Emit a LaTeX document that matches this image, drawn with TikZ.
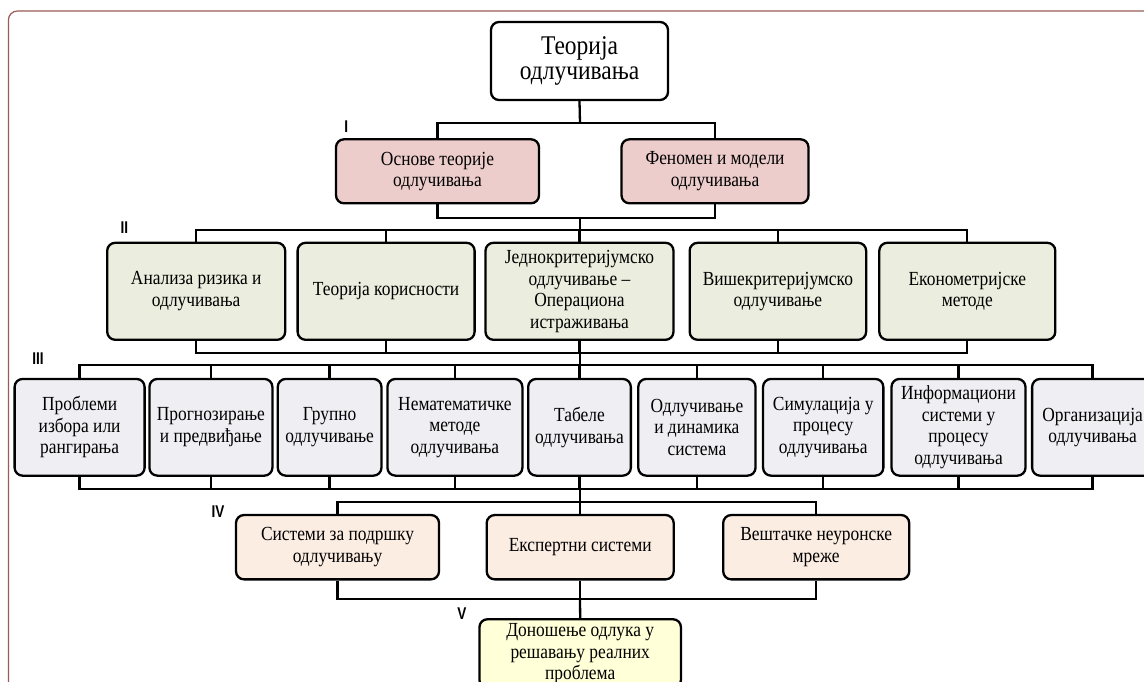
\documentclass[tikz,border=0pt]{standalone}
\usepackage{fontspec}
\setmainfont{Liberation Serif}
\newfontfamily\bodyfont[FakeStretch=0.87]{Liberation Serif}
\newfontfamily\levelfont[FakeStretch=0.8]{Liberation Sans Bold}
\definecolor{framecol}{HTML}{9A5A55}
\definecolor{fillone}{HTML}{EDCDCB}
\definecolor{filltwo}{HTML}{EBEEDE}
\definecolor{fillthree}{HTML}{EFEEF3}
\definecolor{fillfour}{HTML}{FCEDE3}
\definecolor{fillfive}{HTML}{FFFFD8}
\begin{document}
\begin{tikzpicture}[x=1pt,y=-1pt,
  box/.style={draw=black, line width=2.3pt, rounded corners=8pt, align=center,
    inner sep=0pt, font=\bodyfont\fontsize{20}{21.5}\selectfont},
  wire/.style={line width=2.3pt, line join=miter},
  lvl/.style={font=\levelfont\fontsize{17}{17}\selectfont, inner sep=0pt}
]
\useasboundingbox (0,0) rectangle (1144,682);
\fill[white] (0,0) rectangle (1144,682);
% outer frame, running off the right and bottom edges
\draw[framecol, line width=1.2pt, rounded corners=9pt] (8.4,11) rectangle (1170,710);

% root
\node[box, fill=white, minimum width=177pt, minimum height=78pt,
  font=\bodyfont\fontsize{27}{25}\selectfont] (root) at (579.5,61) {Теорија\\одлучивања};

% level I
\node[box, fill=fillone, minimum width=203pt, minimum height=64pt] (osn) at (437.5,171.3) {Основе теорије\\одлучивања};
\node[box, fill=fillone, minimum width=187pt, minimum height=64pt] (fen) at (715,171.3) {Феномен и модели\\одлучивања};

% level II
\node[box, fill=filltwo, minimum width=178pt, minimum height=97pt] (anl) at (196.2,291.3) {Анализа ризика и\\одлучивања};
\node[box, fill=filltwo, minimum width=177pt, minimum height=97pt] (kor) at (386.1,291.3) {Теорија корисности};
\node[box, fill=filltwo, minimum width=188pt, minimum height=97pt] (jed) at (579.5,291.3) {Једнокритеријумско\\одлучивање –\\Операциона\\истраживања};
\node[box, fill=filltwo, minimum width=176.5pt, minimum height=97pt] (vis) at (777.9,291.3) {Вишекритеријумско\\одлучивање};
\node[box, fill=filltwo, minimum width=176pt, minimum height=97pt] (eko) at (967.3,291.3) {Економетријске\\методе};

% level III
\tikzset{three/.style={box, fill=fillthree, minimum height=96.7pt}}
\node[three, minimum width=130pt] (pro) at (79.6,427.3) {Проблеми\\избора или\\рангирања};
\node[three, minimum width=123pt] (prg) at (210.9,427.3) {Прогнозирање\\и предвиђање};
\node[three, minimum width=103.7pt] (grp) at (329.6,427.3) {Групно\\одлучивање};
\node[three, minimum width=135pt] (nem) at (454.9,427.3) {Нематематичке\\методе\\одлучивања};
\node[three, minimum width=102.7pt] (tab) at (579.5,427.3) {Табеле\\одлучивања};
\node[three, minimum width=117.3pt] (din) at (696.9,427.3) {Одлучивање\\и динамика\\система};
\node[three, minimum width=120.3pt] (sim) at (823.2,427.3) {Симулација у\\процесу\\одлучивања};
\node[three, minimum width=134pt] (inf) at (958.5,427.3) {Информациони\\системи у\\процесу\\одлучивања};
\node[three, minimum width=121pt] (org) at (1092.6,427.3) {Организација\\одлучивања};

% level IV
\node[box, fill=fillfour, minimum width=203pt, minimum height=64.3pt] (dss) at (337.5,547.2) {Системи за подршку\\одлучивању};
\node[box, fill=fillfour, minimum width=187pt, minimum height=64.3pt] (eks) at (580.2,547.2) {Експертни системи};
\node[box, fill=fillfour, minimum width=186pt, minimum height=64.3pt] (ann) at (816.2,547.2) {Вештачке неуронске\\мреже};

% level V
\node[box, fill=fillfive, minimum width=201.5pt, minimum height=68.7pt] (don) at (580.2,653.6) {Доношење одлука у\\решавању реалних\\проблема};

% bus levels on the central spine
\coordinate (b1) at (580,123.3);
\coordinate (u1) at (580,218.3);
\coordinate (b2) at (580,230);
\coordinate (u2) at (580,353.3);
\coordinate (b3) at (580,365);
\coordinate (u3) at (580,489.3);
\coordinate (b4) at (580,501.7);
\coordinate (u4) at (580,599.3);

% root -> level I
\draw[wire] (root.south) -- (b1);
\draw[wire] (osn.north) -- (osn.north |- b1) -- (fen.north |- b1) -- (fen.north);
\draw[wire] (osn.south) -- (osn.south |- u1) -- (fen.south |- u1) -- (fen.south);
\draw[wire] (u1) -- (b2);

% level II
\draw[wire] (anl.north) -- (anl.north |- b2) -- (eko.north |- b2) -- (eko.north);
\foreach \n in {kor,jed,vis} \draw[wire] (\n.north) -- (\n.north |- b2);
\draw[wire] (anl.south) -- (anl.south |- u2) -- (eko.south |- u2) -- (eko.south);
\foreach \n in {kor,jed,vis} \draw[wire] (\n.south) -- (\n.south |- u2);
\draw[wire] (u2) -- (b3);

% level III
\draw[wire] (pro.north) -- (pro.north |- b3) -- (org.north |- b3) -- (org.north);
\foreach \n in {prg,grp,nem,tab,din,sim,inf} \draw[wire] (\n.north) -- (\n.north |- b3);
\draw[wire] (pro.south) -- (pro.south |- u3) -- (org.south |- u3) -- (org.south);
\foreach \n in {prg,grp,nem,tab,din,sim,inf} \draw[wire] (\n.south) -- (\n.south |- u3);
\draw[wire] (u3) -- (b4);

% level IV
\draw[wire] (dss.north) -- (dss.north |- b4) -- (ann.north |- b4) -- (ann.north);
\draw[wire] (eks.north) -- (eks.north |- b4);
\draw[wire] (dss.south) -- (dss.south |- u4) -- (ann.south |- u4) -- (ann.south);
\draw[wire] (eks.south) -- (eks.south |- u4);
\draw[wire] (u4) -- (don.north);

% level marks
\node[lvl] (m1) at (346.3,126.7) {I};
\node[lvl] (m2) at (124.4,227.7) {II};
\node[lvl] (m3) at (38,358.3) {III};
\node[lvl] (m4) at (218,511.7) {IV};
\node[lvl] (m5) at (462,613.3) {V};
\end{tikzpicture}
\end{document}
